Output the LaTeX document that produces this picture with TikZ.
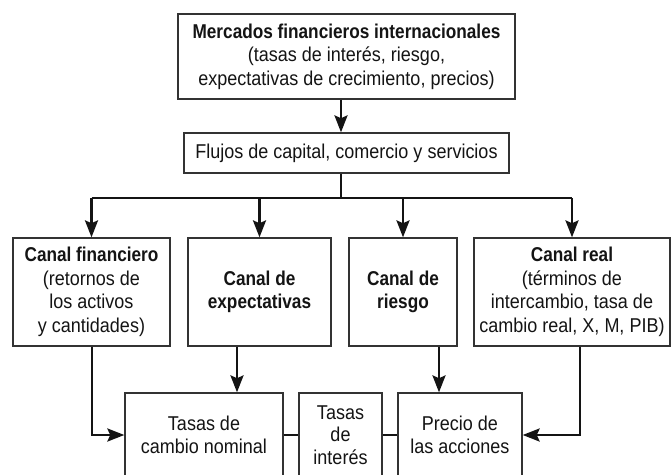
\documentclass[tikz,border=0pt]{standalone}
\usepackage{fontspec}
\setmainfont{Liberation Sans}[FakeStretch=0.90]
\newfontfamily\boldf{Liberation Sans Bold}[FakeStretch=0.86]
\usetikzlibrary{arrows.meta,calc}
\begin{document}
\begin{tikzpicture}[x=1pt,y=-1pt,
  box/.style={draw=black!80, line width=1.3pt, inner sep=0pt, align=center,
    text=black!92, font=\fontsize{20}{23.5}\selectfont},
  conn/.style={line width=2.8pt, draw=black!92},
  arr/.style={conn, -{Stealth[length=17pt,width=13pt,inset=3pt]}}]
\useasboundingbox (0,0) rectangle (672,474);
\clip (0,0) rectangle (672,474);
\fill[white] (0,0) rectangle (672,474);

\node[box, minimum width=337pt, minimum height=85pt] (top) at (346.5,56.5)
  {{\boldf Mercados financieros internacionales}\\(tasas de interés, riesgo,\\expectativas de crecimiento, precios)};
\node[box, minimum width=325pt, minimum height=40pt] (flujos) at (346.5,153)
  {Flujos de capital, comercio y servicios};

\node[box, minimum width=157pt, minimum height=108pt] (fin) at (91.5,292)
  {{\boldf Canal financiero}\\(retornos de\\los activos\\y cantidades)};
\node[box, minimum width=143pt, minimum height=108pt] (exp) at (259.5,292)
  {{\boldf Canal de}\\{\boldf expectativas}};
\node[box, minimum width=108pt, minimum height=108pt] (rie) at (403,292)
  {{\boldf Canal de}\\{\boldf riesgo}};
\node[box, minimum width=196pt, minimum height=108pt] (real) at (572,292)
  {{\boldf Canal real}\\(términos de\\intercambio, tasa de\\cambio real, X, M, PIB)};

\node[box, minimum width=158pt, minimum height=84pt] (tcn) at (204,435)
  {Tasas de\\cambio nominal};
\node[box, minimum width=83pt, minimum height=84pt,
  font=\fontsize{20}{22.5}\selectfont] (tin) at (340.5,435)
  {Tasas\\de\\interés};
\node[box, minimum width=124pt, minimum height=84pt] (pre) at (460,435)
  {Precio de\\las acciones};

% coordinates
\coordinate (cx) at (341,0);
\coordinate (bus) at (341,198);
\coordinate (xe) at (237,0);
\coordinate (xr) at (439,0);
\coordinate (xf) at (92,0);
\coordinate (xreal) at (580,0);

\draw[arr] (top.south -| cx) -- (flujos.north -| cx);
\draw[conn] (flujos.south -| cx) -- (bus);
\draw[conn] (bus -| fin.north) -- (bus -| real.north);
\draw[arr] (bus -| fin.north) -- (fin.north);
\draw[arr] (bus -| exp.north) -- (exp.north);
\draw[arr] (bus -| rie.north) -- (rie.north);
\draw[arr] (bus -| real.north) -- (real.north);

\draw[arr] (exp.south -| xe) -- (tcn.north -| xe);
\draw[arr] (rie.south -| xr) -- (pre.north -| xr);
\draw[arr] (fin.south -| xf) |- (tcn.west);
\draw[arr] (real.south -| xreal) |- (pre.east);
\draw[conn] (tcn.east) -- (tin.west);
\draw[conn] (tin.east) -- (pre.west);
\end{tikzpicture}
\end{document}
